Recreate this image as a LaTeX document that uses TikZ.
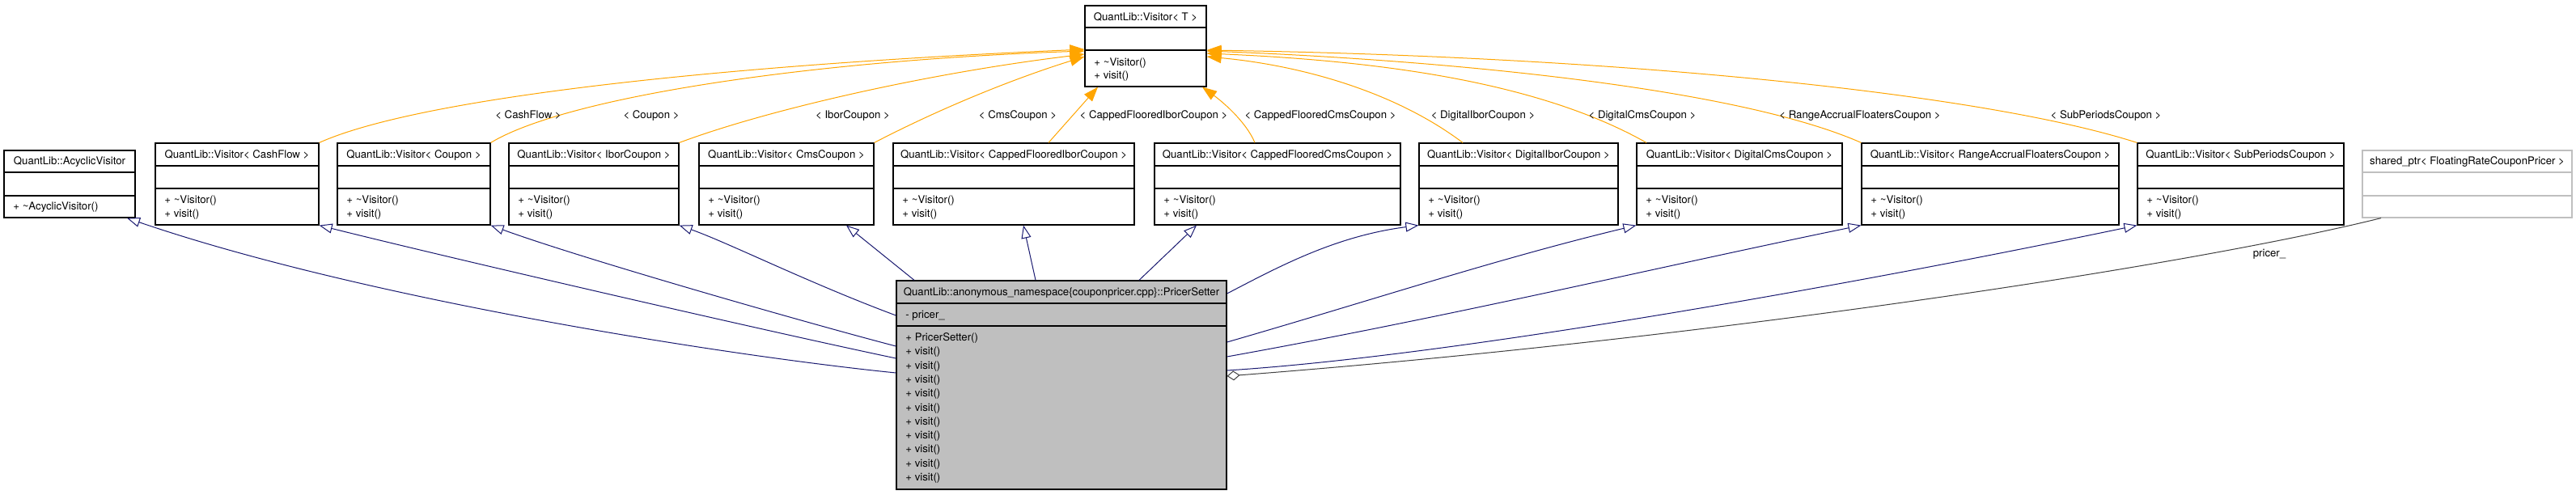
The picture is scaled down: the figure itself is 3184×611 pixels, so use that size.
\documentclass[tikz,border=0pt]{standalone}
\usepackage{fontspec}
\setmainfont{TeX Gyre Heros}
\usetikzlibrary{arrows.meta,fit}
\definecolor{tmplorange}{HTML}{FFA500}
\definecolor{inhblue}{HTML}{191970}
\definecolor{boxgray}{HTML}{BFBFBF}
\definecolor{aggrgray}{HTML}{404040}

\begin{document}
\begin{tikzpicture}[x=0.5pt, y=-0.5pt,
    font=\fontsize{6.6}{8}\selectfont,
    cls/.style={draw, line width=0.6pt, fill=white, inner sep=0pt},
    clsmain/.style={cls, fill=boxgray},
    clsext/.style={cls, draw=boxgray},
    ttl/.style={anchor=base, inner sep=0pt},
    mbr/.style={anchor=base west, inner sep=0pt},
    lbl/.style={anchor=base, inner sep=0pt},
    tmpl/.style={draw=tmplorange, line width=0.5pt, -{Triangle[length=9pt, width=6.5pt]}},
    inh/.style={draw=inhblue, line width=0.5pt, -{Triangle[open, length=8pt, width=6pt]}},
    aggr/.style={draw=aggrgray, line width=0.5pt, {Diamond[open, length=8pt, width=6pt]}-}]
                      \path[fill=white, use as bounding box] (0,0) rectangle (3184,611);
                      % template base
                      \node[cls, fit={(1341,7) (1491,107)}] (vt) {};
                      \draw[line width=0.6pt] (vt.west |- 0,34) -- (vt.east |- 0,34) (vt.west |- 0,62) -- (vt.east |- 0,62);
                      \node[ttl] (vt-t) at (1416,25) {QuantLib::Visitor< T >};
                      \node[mbr] (vt-m1) at (1352,81.5) {+ \textasciitilde Visitor()};
                      \node[mbr] (vt-m2) at (1352,97.5) {+ visit()};
                      % second row
                      \node[cls, fit={(5,186) (167,269)}] (acyclic) {};
                      \node[cls, fit={(192,177) (394,278)}] (cashflow) {};
                      \node[cls, fit={(417,177) (606,278)}] (coupon) {};
                      \node[cls, fit={(629,177) (839,278)}] (ibor) {};
                      \node[cls, fit={(864,177) (1080,278)}] (cms) {};
                      \node[cls, fit={(1104,177) (1402,278)}] (cfibor) {};
                      \node[cls, fit={(1427,177) (1731,278)}] (cfcms) {};
                      \node[cls, fit={(1754,177) (2000,278)}] (digibor) {};
                      \node[cls, fit={(2023,177) (2277,278)}] (digcms) {};
                      \node[cls, fit={(2301,177) (2619,278)}] (range) {};
                      \node[cls, fit={(2642,177) (2897,278)}] (subper) {};
                      \node[clsext, fit={(2920,186) (3179,269)}] (shared) {};
                      \draw[line width=0.6pt] (acyclic.west |- 0,213) -- (acyclic.east |- 0,213) (acyclic.west |- 0,242) -- (acyclic.east |- 0,242);
                      \draw[line width=0.6pt] (cashflow.west |- 0,205) -- (cashflow.east |- 0,205) (cashflow.west |- 0,233) -- (cashflow.east |- 0,233);
                      \draw[line width=0.6pt] (coupon.west |- 0,205) -- (coupon.east |- 0,205) (coupon.west |- 0,233) -- (coupon.east |- 0,233);
                      \draw[line width=0.6pt] (ibor.west |- 0,205) -- (ibor.east |- 0,205) (ibor.west |- 0,233) -- (ibor.east |- 0,233);
                      \draw[line width=0.6pt] (cms.west |- 0,205) -- (cms.east |- 0,205) (cms.west |- 0,233) -- (cms.east |- 0,233);
                      \draw[line width=0.6pt] (cfibor.west |- 0,205) -- (cfibor.east |- 0,205) (cfibor.west |- 0,233) -- (cfibor.east |- 0,233);
                      \draw[line width=0.6pt] (cfcms.west |- 0,205) -- (cfcms.east |- 0,205) (cfcms.west |- 0,233) -- (cfcms.east |- 0,233);
                      \draw[line width=0.6pt] (digibor.west |- 0,205) -- (digibor.east |- 0,205) (digibor.west |- 0,233) -- (digibor.east |- 0,233);
                      \draw[line width=0.6pt] (digcms.west |- 0,205) -- (digcms.east |- 0,205) (digcms.west |- 0,233) -- (digcms.east |- 0,233);
                      \draw[line width=0.6pt] (range.west |- 0,205) -- (range.east |- 0,205) (range.west |- 0,233) -- (range.east |- 0,233);
                      \draw[line width=0.6pt] (subper.west |- 0,205) -- (subper.east |- 0,205) (subper.west |- 0,233) -- (subper.east |- 0,233);
                      \draw[line width=0.6pt, boxgray] (shared.west |- 0,213) -- (shared.east |- 0,213) (shared.west |- 0,242) -- (shared.east |- 0,242);
                      \node[ttl] (acyclic-t) at (86,203) {QuantLib::AcyclicVisitor};
                      \node[mbr] (acyclic-m1) at (16,259.5) {+ \textasciitilde AcyclicVisitor()};
                      \node[ttl] (cashflow-t) at (293,195) {QuantLib::Visitor< CashFlow >};
                      \node[mbr] (cashflow-m1) at (203,251.5) {+ \textasciitilde Visitor()};
                      \node[mbr] (cashflow-m2) at (203,268) {+ visit()};
                      \node[ttl] (coupon-t) at (511.5,195) {QuantLib::Visitor< Coupon >};
                      \node[mbr] (coupon-m1) at (428,251.5) {+ \textasciitilde Visitor()};
                      \node[mbr] (coupon-m2) at (428,268) {+ visit()};
                      \node[ttl] (ibor-t) at (734,195) {QuantLib::Visitor< IborCoupon >};
                      \node[mbr] (ibor-m1) at (640,251.5) {+ \textasciitilde Visitor()};
                      \node[mbr] (ibor-m2) at (640,268) {+ visit()};
                      \node[ttl] (cms-t) at (972,195) {QuantLib::Visitor< CmsCoupon >};
                      \node[mbr] (cms-m1) at (875,251.5) {+ \textasciitilde Visitor()};
                      \node[mbr] (cms-m2) at (875,268) {+ visit()};
                      \node[ttl] (cfibor-t) at (1253,195) {QuantLib::Visitor< CappedFlooredIborCoupon >};
                      \node[mbr] (cfibor-m1) at (1115,251.5) {+ \textasciitilde Visitor()};
                      \node[mbr] (cfibor-m2) at (1115,268) {+ visit()};
                      \node[ttl] (cfcms-t) at (1579,195) {QuantLib::Visitor< CappedFlooredCmsCoupon >};
                      \node[mbr] (cfcms-m1) at (1438,251.5) {+ \textasciitilde Visitor()};
                      \node[mbr] (cfcms-m2) at (1438,268) {+ visit()};
                      \node[ttl] (digibor-t) at (1877,195) {QuantLib::Visitor< DigitalIborCoupon >};
                      \node[mbr] (digibor-m1) at (1765,251.5) {+ \textasciitilde Visitor()};
                      \node[mbr] (digibor-m2) at (1765,268) {+ visit()};
                      \node[ttl] (digcms-t) at (2150,195) {QuantLib::Visitor< DigitalCmsCoupon >};
                      \node[mbr] (digcms-m1) at (2034,251.5) {+ \textasciitilde Visitor()};
                      \node[mbr] (digcms-m2) at (2034,268) {+ visit()};
                      \node[ttl] (range-t) at (2460,195) {QuantLib::Visitor< RangeAccrualFloatersCoupon >};
                      \node[mbr] (range-m1) at (2312,251.5) {+ \textasciitilde Visitor()};
                      \node[mbr] (range-m2) at (2312,268) {+ visit()};
                      \node[ttl] (subper-t) at (2769.5,195) {QuantLib::Visitor< SubPeriodsCoupon >};
                      \node[mbr] (subper-m1) at (2653,251.5) {+ \textasciitilde Visitor()};
                      \node[mbr] (subper-m2) at (2653,268) {+ visit()};
                      \node[ttl] (shared-t) at (3049.5,203) {shared\_ptr< FloatingRateCouponPricer >};
                      % the setter
                      \node[clsmain, fit={(1108,347) (1516,605)}] (ps) {};
                      \draw[line width=0.6pt] (ps.west |- 0,375) -- (ps.east |- 0,375) (ps.west |- 0,403) -- (ps.east |- 0,403);
                      \node[ttl] (ps-t) at (1312,365.5) {QuantLib::anonymous\_namespace\{couponpricer.cpp\}::PricerSetter};
                      \node[mbr] (ps-a1) at (1119,393.5) {- pricer\_};
                      \node[mbr] (ps-m1) at (1119,421.5) {+ PricerSetter()};
                      \node[mbr] (ps-m2) at (1119,438.8) {+ visit()};
                      \node[mbr] (ps-m3) at (1119,456.1) {+ visit()};
                      \node[mbr] (ps-m4) at (1119,473.4) {+ visit()};
                      \node[mbr] (ps-m5) at (1119,490.7) {+ visit()};
                      \node[mbr] (ps-m6) at (1119,508) {+ visit()};
                      \node[mbr] (ps-m7) at (1119,525.3) {+ visit()};
                      \node[mbr] (ps-m8) at (1119,542.6) {+ visit()};
                      \node[mbr] (ps-m9) at (1119,559.9) {+ visit()};
                      \node[mbr] (ps-m10) at (1119,577.2) {+ visit()};
                      \node[mbr] (ps-m11) at (1119,594.5) {+ visit()};
                      % template instances
                      \draw[tmpl] (cashflow.north east) .. controls (520,120) and (900,80) .. (vt.west |- 0,61);
                      \draw[tmpl] (coupon.north east) .. controls (700,120) and (1000,75) .. (vt.west |- 0,63);
                      \draw[tmpl] (ibor.north east) .. controls (950,135) and (1150,90) .. (vt.west |- 0,67);
                      \draw[tmpl] (cms.north east) .. controls (1170,130) and (1260,95) .. (vt.west |- 0,70);
                      \draw[tmpl] (1296,0 |- cfibor.north) -- (1357,0 |- vt.south);
                      \draw[tmpl] (1551,0 |- cfcms.north) .. controls (1540,150) and (1510,125) .. (1486,0 |- vt.south);
                      \draw[tmpl] (1808,0 |- digibor.north) .. controls (1720,110) and (1600,80) .. (vt.east |- 0,70);
                      \draw[tmpl] (2035,0 |- digcms.north) .. controls (1900,100) and (1700,75) .. (vt.east |- 0,66);
                      \draw[tmpl] (range.north west) .. controls (2150,110) and (1800,75) .. (vt.east |- 0,63);
                      \draw[tmpl] (subper.north west) .. controls (2450,115) and (2000,70) .. (vt.east |- 0,62);
                      \node[lbl] (l-cashflow) at (653,146.5) {< CashFlow >};
                      \node[lbl] (l-coupon) at (805,146.5) {< Coupon >};
                      \node[lbl] (l-ibor) at (1054,146.5) {< IborCoupon >};
                      \node[lbl] (l-cms) at (1258,146.5) {< CmsCoupon >};
                      \node[lbl] (l-cfibor) at (1426,146.5) {< CappedFlooredIborCoupon >};
                      \node[lbl] (l-cfcms) at (1632,146.5) {< CappedFlooredCmsCoupon >};
                      \node[lbl] (l-digibor) at (1833,146.5) {< DigitalIborCoupon >};
                      \node[lbl] (l-digcms) at (2030,146.5) {< DigitalCmsCoupon >};
                      \node[lbl] (l-range) at (2299,146.5) {< RangeAccrualFloatersCoupon >};
                      \node[lbl] (l-subper) at (2603,146.5) {< SubPeriodsCoupon >};
                      % inheritance
                      \draw[inh] (ps.west |- 0,461) .. controls (900,440) and (450,370) .. (157,0 |- acyclic.south);
                      \draw[inh] (ps.west |- 0,443) .. controls (950,410) and (560,320) .. (cashflow.south east);
                      \draw[inh] (ps.west |- 0,428) .. controls (1000,400) and (720,320) .. (coupon.south east);
                      \draw[inh] (ps.west |- 0,390) .. controls (1000,350) and (900,300) .. (ibor.south east);
                      \draw[inh] (1130,0 |- ps.north) -- (1046,0 |- cms.south);
                      \draw[inh] (1280,0 |- ps.north) -- (1265,0 |- cfibor.south);
                      \draw[inh] (1408,0 |- ps.north) -- (1479,0 |- cfcms.south);
                      \draw[inh] (ps.east |- 0,363) .. controls (1580,330) and (1650,292) .. (digibor.south west);
                      \draw[inh] (ps.east |- 0,423) .. controls (1700,370) and (1850,320) .. (digcms.south west);
                      \draw[inh] (ps.east |- 0,441) .. controls (1800,390) and (2050,330) .. (range.south west);
                      \draw[inh] (ps.east |- 0,458) .. controls (1800,440) and (2300,350) .. (subper.south west);
                      % usage
                      \draw[aggr] (ps.east |- 0,465) .. controls (2100,420) and (2700,330) .. (2943,0 |- shared.south);
                      \node[lbl] (l-pricer) at (2805,317.5) {pricer\_};
\end{tikzpicture}
\end{document}
